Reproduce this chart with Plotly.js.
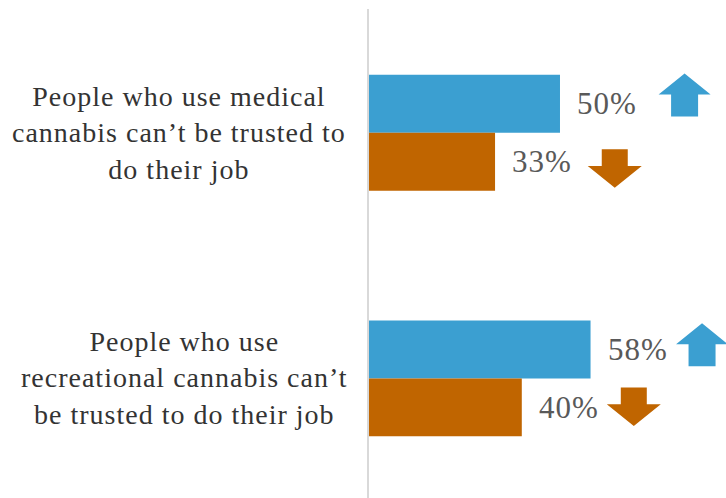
<!DOCTYPE html>
<html>
<head>
<meta charset="utf-8">
<script src="https://cdn.plot.ly/plotly-3.0.1.min.js"></script>
<style>
  html, body { margin: 0; padding: 0; background: #fff; }
  svg text { letter-spacing: 1px; }
</style>
</head>
<body>
<div id="chart" style="width:726px;height:498px;"></div>
<script>
// ---- data ----
const categories = ["medical", "recreational"];
const categoryLabels = [
  "People who use medical<br>cannabis can’t be trusted to<br>do their job",
  "People who use<br>recreational cannabis can’t<br>be trusted to do their job"
];
const seriesNames = ["Later", "Earlier"];
const blueValues = [50, 58];
const orangeValues = [33, 40];
const blueDirection = ["up", "up"];
const orangeDirection = ["down", "down"];

// ---- styling ----
const BLUE = "#3B9FD1";
const ORANGE = "#C06500";
const serif = "Liberation Serif, Times New Roman, serif";

const traces = [
  { type: "bar", orientation: "h", name: seriesNames[0], y: categories, x: blueValues,
    marker: { color: BLUE }, hoverinfo: "none" },
  { type: "bar", orientation: "h", name: seriesNames[1], y: categories, x: orangeValues,
    marker: { color: ORANGE }, hoverinfo: "none" }
];

const annotations = [];
categories.forEach((c, i) => {
  annotations.push({
    xref: "paper", yref: "y", x: i === 0 ? -0.533 : -0.518, y: c,
    xanchor: "center", yanchor: "middle", align: "center",
    text: categoryLabels[i], showarrow: false,
    font: { family: serif, size: 28, color: "#333333" }
  });
  annotations.push({
    xref: "x", yref: "y", x: blueValues[i], y: c, xanchor: "left", yanchor: "middle",
    xshift: 15, yshift: 29, text: blueValues[i] + "%", showarrow: false,
    font: { family: serif, size: 31, color: "#595959" }
  });
  annotations.push({
    xref: "x", yref: "y", x: orangeValues[i], y: c, xanchor: "left", yanchor: "middle",
    xshift: 15, yshift: -29, text: orangeValues[i] + "%", showarrow: false,
    font: { family: serif, size: 31, color: "#595959" }
  });
});

// arrow glyph paths (pixel units, centred on anchor, +y is up)
function upPath(dx, dy) {
  const p = [[0, 21.5], [26, 0.5], [13.5, 0.5], [13.5, -21.5], [-13.5, -21.5], [-13.5, 0.5], [-26, 0.5]];
  return "M" + p.map(q => (q[0] + dx) + "," + (q[1] + dy)).join(" L") + " Z";
}
function downPath(dx, dy) {
  const p = [[-13, 19.25], [13, 19.25], [13, 2.5], [27, 2.5], [0, -19.25], [-27, 2.5], [-13, 2.5]];
  return "M" + p.map(q => (q[0] + dx) + "," + (q[1] + dy)).join(" L") + " Z";
}
const arrowOffsetsBlue = [[124.6, 37.7], [111.5, 33.6]];
const arrowOffsetsOrange = [[119.7, -35.6], [112, -28.4]];

const shapes = [];
categories.forEach((c, i) => {
  const bo = arrowOffsetsBlue[i], oo = arrowOffsetsOrange[i];
  shapes.push({
    type: "path", xref: "x", yref: "y", xsizemode: "pixel", ysizemode: "pixel",
    xanchor: blueValues[i], yanchor: i,
    path: (blueDirection[i] === "up" ? upPath : downPath)(bo[0], bo[1]),
    fillcolor: BLUE, line: { width: 0 }, layer: "above"
  });
  shapes.push({
    type: "path", xref: "x", yref: "y", xsizemode: "pixel", ysizemode: "pixel",
    xanchor: orangeValues[i], yanchor: i,
    path: (orangeDirection[i] === "up" ? upPath : downPath)(oo[0], oo[1]),
    fillcolor: ORANGE, line: { width: 0 }, layer: "above"
  });
});

const layout = {
  width: 726, height: 498,
  margin: { l: 369, r: 0, t: 9, b: 0, pad: 0 },
  paper_bgcolor: "#ffffff", plot_bgcolor: "#ffffff",
  showlegend: false,
  barmode: "group", bargap: 0.528, bargroupgap: 0,
  xaxis: { range: [0, 93.46], showgrid: false, zeroline: false, showticklabels: false,
           showline: false, ticks: "", fixedrange: true },
  yaxis: { type: "category", range: [1.487, -0.504], showgrid: false, zeroline: false,
           showticklabels: false, ticks: "", showline: true, linecolor: "#d9d9d9",
           linewidth: 2, fixedrange: true },
  annotations: annotations,
  shapes: shapes
};

Plotly.newPlot("chart", traces, layout, { displayModeBar: false, staticPlot: true });
</script>
</body>
</html>
